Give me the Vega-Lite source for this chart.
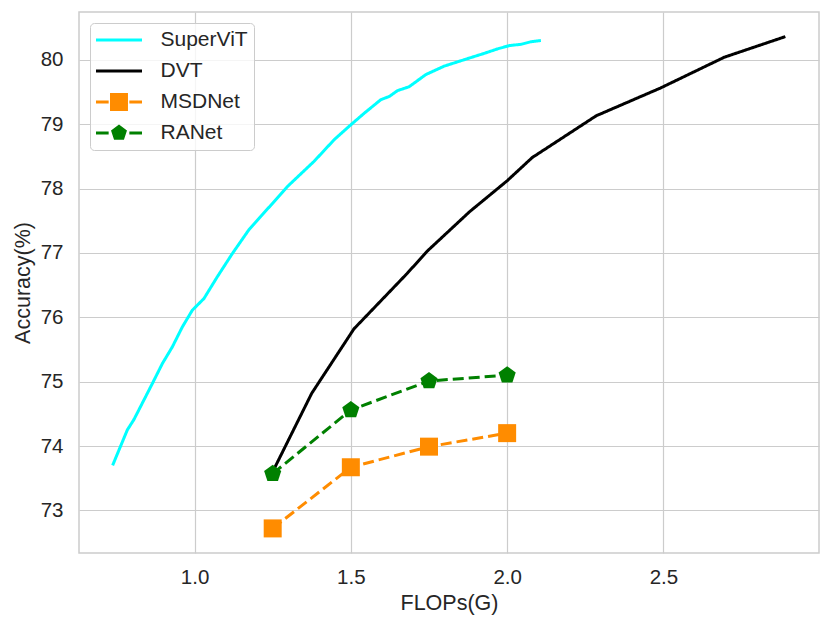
{
  "$schema": "https://vega.github.io/schema/vega-lite/v6.json",
  "description": "Accuracy vs FLOPs for SuperViT, DVT, MSDNet and RANet",
  "width": 740,
  "height": 541,
  "autosize": {"type": "none"},
  "padding": {"left": 79, "top": 12, "right": 12, "bottom": 74},
  "background": "white",
  "data": {
    "values": [
      {"model": "SuperViT", "flops": 0.738, "acc": 73.70},
      {"model": "SuperViT", "flops": 0.785, "acc": 74.25},
      {"model": "SuperViT", "flops": 0.806, "acc": 74.41},
      {"model": "SuperViT", "flops": 0.865, "acc": 74.97},
      {"model": "SuperViT", "flops": 0.897, "acc": 75.28},
      {"model": "SuperViT", "flops": 0.929, "acc": 75.54},
      {"model": "SuperViT", "flops": 0.961, "acc": 75.85},
      {"model": "SuperViT", "flops": 0.993, "acc": 76.11},
      {"model": "SuperViT", "flops": 1.030, "acc": 76.29},
      {"model": "SuperViT", "flops": 1.073, "acc": 76.63},
      {"model": "SuperViT", "flops": 1.121, "acc": 76.99},
      {"model": "SuperViT", "flops": 1.174, "acc": 77.36},
      {"model": "SuperViT", "flops": 1.244, "acc": 77.74},
      {"model": "SuperViT", "flops": 1.297, "acc": 78.03},
      {"model": "SuperViT", "flops": 1.382, "acc": 78.42},
      {"model": "SuperViT", "flops": 1.447, "acc": 78.76},
      {"model": "SuperViT", "flops": 1.500, "acc": 78.99},
      {"model": "SuperViT", "flops": 1.543, "acc": 79.17},
      {"model": "SuperViT", "flops": 1.596, "acc": 79.38},
      {"model": "SuperViT", "flops": 1.623, "acc": 79.43},
      {"model": "SuperViT", "flops": 1.649, "acc": 79.52},
      {"model": "SuperViT", "flops": 1.686, "acc": 79.58},
      {"model": "SuperViT", "flops": 1.740, "acc": 79.77},
      {"model": "SuperViT", "flops": 1.798, "acc": 79.90},
      {"model": "SuperViT", "flops": 1.862, "acc": 80.00},
      {"model": "SuperViT", "flops": 1.927, "acc": 80.10},
      {"model": "SuperViT", "flops": 1.970, "acc": 80.17},
      {"model": "SuperViT", "flops": 2.007, "acc": 80.22},
      {"model": "SuperViT", "flops": 2.044, "acc": 80.24},
      {"model": "SuperViT", "flops": 2.076, "acc": 80.28},
      {"model": "SuperViT", "flops": 2.108, "acc": 80.30},
      {"model": "DVT", "flops": 1.25, "acc": 73.60},
      {"model": "DVT", "flops": 1.375, "acc": 74.82},
      {"model": "DVT", "flops": 1.51, "acc": 75.82},
      {"model": "DVT", "flops": 1.68, "acc": 76.68},
      {"model": "DVT", "flops": 1.745, "acc": 77.03},
      {"model": "DVT", "flops": 1.88, "acc": 77.64},
      {"model": "DVT", "flops": 2.0, "acc": 78.12},
      {"model": "DVT", "flops": 2.08, "acc": 78.48},
      {"model": "DVT", "flops": 2.285, "acc": 79.13},
      {"model": "DVT", "flops": 2.49, "acc": 79.56},
      {"model": "DVT", "flops": 2.695, "acc": 80.04},
      {"model": "DVT", "flops": 2.89, "acc": 80.36},
      {"model": "MSDNet", "flops": 1.25, "acc": 72.72},
      {"model": "MSDNet", "flops": 1.5, "acc": 73.67},
      {"model": "MSDNet", "flops": 1.75, "acc": 73.99},
      {"model": "MSDNet", "flops": 2.0, "acc": 74.20},
      {"model": "RANet", "flops": 1.25, "acc": 73.57},
      {"model": "RANet", "flops": 1.5, "acc": 74.56},
      {"model": "RANet", "flops": 1.75, "acc": 75.01},
      {"model": "RANet", "flops": 2.0, "acc": 75.10}
    ]
  },
  "layer": [
    {
      "mark": {"type": "line", "strokeWidth": 3, "strokeJoin": "round"},
      "encoding": {
        "x": {
          "field": "flops",
          "type": "quantitative",
          "scale": {"domain": [0.6304, 2.9976], "nice": false, "zero": false},
          "axis": {"title": "FLOPs(G)", "values": [1, 1.5, 2, 2.5], "format": ".1f", "labelPadding": 14, "titlePadding": 5}
        },
        "y": {
          "field": "acc",
          "type": "quantitative",
          "scale": {"domain": [72.338, 80.742], "nice": false, "zero": false},
          "axis": {"title": "Accuracy(%)", "values": [73, 74, 75, 76, 77, 78, 79, 80], "format": "d", "labelPadding": 16, "titlePadding": 6}
        },
        "color": {
          "field": "model",
          "type": "nominal",
          "scale": {
            "domain": ["SuperViT", "DVT", "MSDNet", "RANet"],
            "range": ["#00ffff", "#000000", "#ff8c00", "#008000"]
          },
          "legend": {
            "title": null,
            "orient": "top-left",
            "offset": 11,
            "padding": 6,
            "fillColor": "rgba(255,255,255,0.8)",
            "strokeColor": "#cccccc",
            "cornerRadius": 4,
            "symbolSize": 2116,
            "symbolStrokeWidth": 0,
            "clipHeight": 22,
            "rowPadding": 9,
            "labelFont": "Liberation Sans",
            "labelFontSize": 21,
            "labelColor": "#262626",
            "labelOffset": 18.5,
            "encode": {
              "symbols": {
                "update": {
                  "shape": {"signal": "datum.value === 'MSDNet' ? 'M-1,-0.065H-0.45V0.065H-1ZM-0.39,-0.39H0.39V0.39H-0.39ZM0.45,-0.065H1V0.065H0.45Z' : datum.value === 'RANet' ? 'M-1,-0.065H-0.45V0.065H-1ZM0,-0.365L0.347,-0.113L0.215,0.295L-0.215,0.295L-0.347,-0.113ZM0.45,-0.065H1V0.065H0.45Z' : 'M-1,-0.065H1V0.065H-1Z'"},
                  "fill": {"signal": "scale('color', datum.value)"},
                  "opacity": {"value": 1},
                  "fillOpacity": {"value": 1},
                  "strokeWidth": {"value": 0}
                }
              }
            }
          }
        },
        "strokeDash": {
          "field": "model",
          "type": "nominal",
          "scale": {
            "domain": ["SuperViT", "DVT", "MSDNet", "RANet"],
            "range": [[1, 0], [1, 0], [11, 5], [11, 5]]
          },
          "legend": null
        }
      }
    },
    {
      "transform": [{"filter": "datum.model === 'MSDNet' || datum.model === 'RANet'"}],
      "mark": {"type": "point", "filled": true, "opacity": 1, "size": 324},
      "encoding": {
        "x": {"field": "flops", "type": "quantitative"},
        "y": {"field": "acc", "type": "quantitative"},
        "color": {"field": "model", "type": "nominal"},
        "shape": {
          "field": "model",
          "type": "nominal",
          "scale": {
            "domain": ["MSDNet", "RANet"],
            "range": ["square", "M0,-1L0.951,-0.309L0.588,0.809L-0.588,0.809L-0.951,-0.309Z"]
          },
          "legend": null
        }
      }
    }
  ],
  "config": {
    "view": {"stroke": "#cccccc", "strokeWidth": 1.5},
    "axis": {
      "domain": false,
      "ticks": false,
      "tickSize": 0,
      "grid": true,
      "gridColor": "#cccccc",
      "gridWidth": 1.2,
      "labelFont": "Liberation Sans",
      "labelFontSize": 20.5,
      "labelColor": "#262626",
      "titleFont": "Liberation Sans",
      "titleFontSize": 21.5,
      "titleFontWeight": "normal",
      "titleColor": "#262626"
    }
  }
}
